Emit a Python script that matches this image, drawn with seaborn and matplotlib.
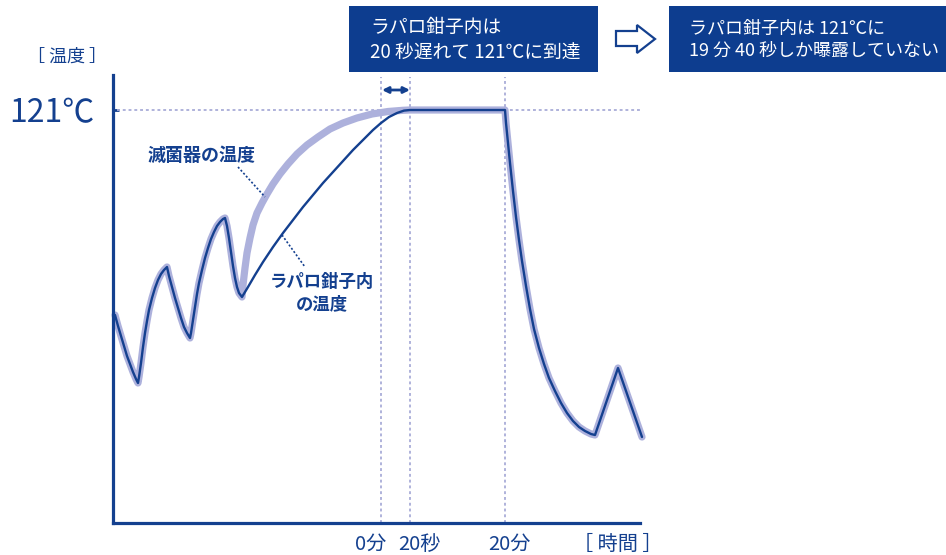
import numpy as np
import pandas as pd
import matplotlib.pyplot as plt
import seaborn as sns
from matplotlib.patches import Rectangle, Polygon

# values (x: time axis units, y: height above baseline)
wave_x = [2, 5, 8, 11, 14, 17, 20, 23, 25,
          26, 28, 30, 32, 34, 36, 39, 42, 45, 48, 51, 54,
          56, 59, 62, 65, 68, 71, 74, 77,
          78, 80, 82, 84, 86, 89, 92, 95, 98, 101, 104, 107, 110, 112,
          114, 116, 118, 120, 122, 124, 126, 129]
wave_y = [208, 197, 187, 177, 167, 159, 151, 144, 140,
          146, 160, 176, 190, 202, 213, 225, 235, 243, 249, 253, 256,
          247, 236, 225, 215, 205, 196, 190, 185,
          190, 203, 216, 229, 240, 253, 265, 275, 284, 291, 297, 301, 304, 305,
          297, 285, 271, 257, 245, 236, 230, 226]

# sterilizer temperature rise (thick band)
steri_rise_x = [130, 132, 134, 137, 140, 144, 149, 154, 160, 167, 175, 184, 194, 205, 217,
                230, 244, 259, 275, 290, 297]
steri_rise_y = [238, 255, 270, 285, 298, 310, 320, 329, 339, 349, 359, 369, 378, 386, 394,
                400, 405, 409, 411.5, 412.7, 413]

# temperature inside the laparoscopic forceps (thin line)
forceps_rise_x = [135, 142, 150, 160, 170, 180, 190, 200, 210, 220, 230, 240, 250, 260, 268,
                  276, 284, 291, 297]
forceps_rise_y = [236, 248, 261, 276, 290, 303, 316, 328, 340, 351, 362, 373, 383, 393, 400,
                  406, 410, 412.4, 413]

# holding end and cool-down (shared)
drop_x = [392, 393, 395, 397, 400, 403, 406, 409, 413, 417, 421, 426, 431, 436, 442, 448,
          454, 460, 466, 472, 478, 482, 505, 529]
drop_y = [413, 400, 380, 360, 332, 306, 283, 262, 237, 214, 194, 175, 159, 145, 132, 120,
          110, 102, 96, 92, 89, 88, 155, 86]

temp_121 = 413
guide_x = [268, 297, 392]          # 0分, 20秒, 20分
tick_pos = [258, 306, 396, 505]
tick_labels = ['0分', '20秒', '20分', '［ 時間 ］']

dark = '#14408f'
box_blue = '#0d3d8f'
lavender = '#adb1dc'
guide_col = '#a9add8'

steri = pd.DataFrame({'t': wave_x + steri_rise_x + drop_x,
                      'temp': wave_y + steri_rise_y + drop_y})
forceps = pd.DataFrame({'t': wave_x + forceps_rise_x + drop_x,
                        'temp': wave_y + forceps_rise_y + drop_y})

sns.set_theme(style='white')
plt.rcParams['font.family'] = ['Noto Sans CJK JP', 'DejaVu Sans']

fig = plt.figure(figsize=(9.46, 5.55), dpi=100)
W, H = 946, 555
ax = fig.add_axes([113 / W, 32 / H, 527 / W, 448 / H])

# guide lines
ax.hlines(temp_121, 4, 529, color=guide_col, lw=1.3, linestyles=(0, (1.6, 1.6)), clip_on=False)
ax.vlines(guide_x, 0, 446, color=guide_col, lw=1.3, linestyles=(0, (1.6, 1.6)))

sns.lineplot(data=steri, x='t', y='temp', sort=False, estimator=None, ax=ax,
             color=lavender, lw=5.2, solid_capstyle='round', solid_joinstyle='round', clip_on=False)
sns.lineplot(data=forceps, x='t', y='temp', sort=False, estimator=None, ax=ax,
             color=dark, lw=1.7, solid_joinstyle='round', clip_on=False)

ax.set_xlim(0, 527)
ax.set_ylim(0, 448)
ax.set_xlabel('')
ax.set_ylabel('')

for s in ['top', 'right']:
    ax.spines[s].set_visible(False)
for s in ['left', 'bottom']:
    ax.spines[s].set_color(dark)
    ax.spines[s].set_linewidth(2.3)

ax.set_yticks([temp_121])
ax.set_yticklabels(['121℃'])
ax.tick_params(axis='y', direction='in', length=4, width=2, color=dark,
               labelsize=23, labelcolor=dark, pad=13, left=True)
ax.set_xticks(tick_pos)
ax.set_xticklabels(tick_labels)
ax.tick_params(axis='x', length=0, labelsize=14.5, labelcolor=dark, pad=8)

# series labels with dotted leaders
ax.text(88, 368, '滅菌器の温度', color=dark, fontsize=13, fontweight='bold', ha='center', va='center')
ax.plot([125, 152], [356, 326], color=dark, lw=1.2, ls=(0, (1.2, 1.2)))
ax.text(209, 230, 'ラパロ鉗子内\nの温度', color=dark, fontsize=12.5, fontweight='bold',
        ha='center', va='center', linespacing=1.25)
ax.plot([169, 192], [288, 256], color=dark, lw=1.2, ls=(0, (1.2, 1.2)))

# 20 second delay arrow
ax.annotate('', xy=(297, 433), xytext=(269, 433),
            arrowprops=dict(arrowstyle='<|-|>', color=dark, lw=2, mutation_scale=9,
                            shrinkA=0, shrinkB=0))

fig.text(67 / W, 1 - 57 / H, '［ 温度 ］', color=dark, fontsize=13, ha='center', va='center')

# message boxes
fig.patches.append(Rectangle((349 / W, 1 - 72 / H), 249 / W, 66 / H,
                             transform=fig.transFigure, facecolor=box_blue, edgecolor='none'))
fig.patches.append(Rectangle((669 / W, 1 - 72 / H), 277 / W, 66 / H,
                             transform=fig.transFigure, facecolor=box_blue, edgecolor='none'))
fig.text(370 / W, 1 - 40 / H, 'ラパロ鉗子内は\n20 秒遅れて 121℃に到達', color='white',
         fontsize=13.5, ha='left', va='center', linespacing=1.3)
fig.text(689 / W, 1 - 40 / H, 'ラパロ鉗子内は 121℃に\n19 分 40 秒しか曝露していない', color='white',
         fontsize=13, ha='left', va='center', linespacing=1.3)

arrow_px = [(616, 31), (637, 31), (637, 25), (655, 39), (637, 53), (637, 46), (616, 46)]
fig.patches.append(Polygon([(x / W, 1 - y / H) for x, y in arrow_px], closed=True,
                           transform=fig.transFigure, facecolor='white', edgecolor=dark, lw=1.6))

fig.savefig('out.png', dpi=100)
